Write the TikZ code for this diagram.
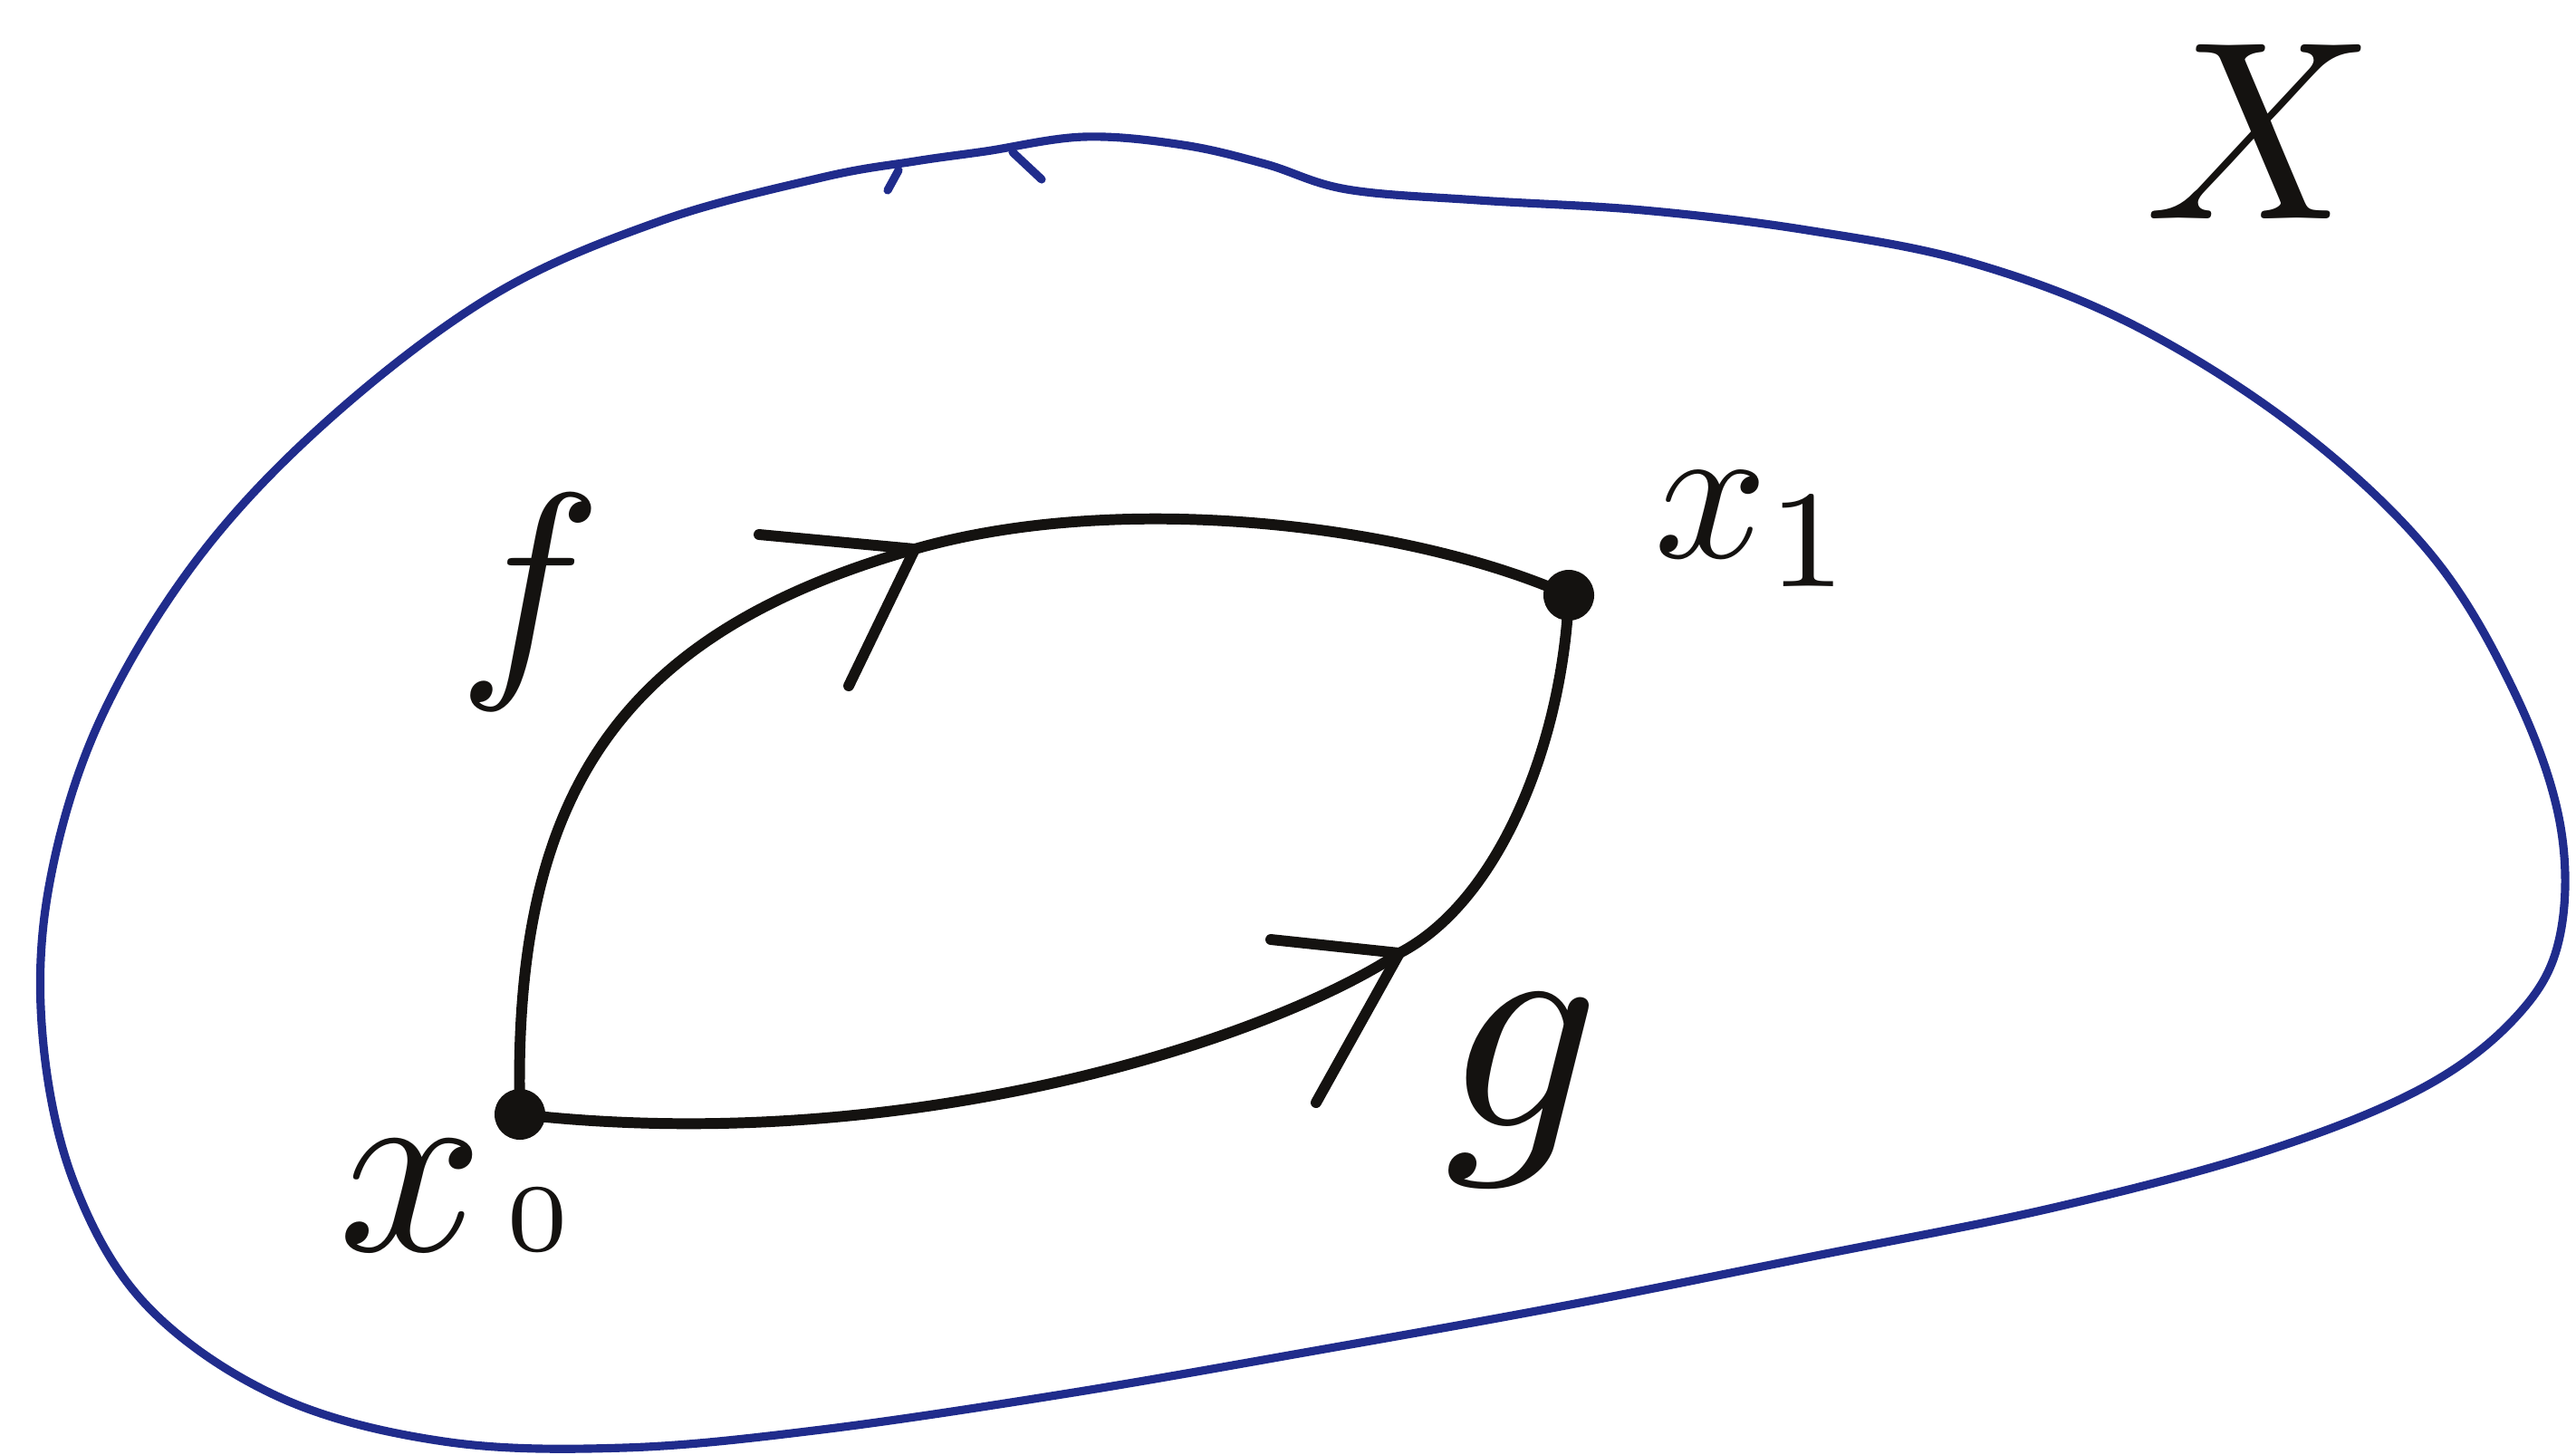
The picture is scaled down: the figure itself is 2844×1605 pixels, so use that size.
\documentclass[tikz,border=0pt]{standalone}
\usepackage{graphicx}
\definecolor{penblue}{RGB}{32,44,140}
\definecolor{ink}{RGB}{20,18,16}
\begin{document}
\begin{tikzpicture}[x=0.01cm,y=-0.01cm,
  dot/.style={circle,fill=ink,inner sep=0pt,minimum size=0.56cm},
  pathline/.style={draw=ink,line width=3.4pt,line cap=round,line join=round},
  chevron/.style={draw=ink,line width=3.4pt,line cap=round,line join=round},
  space/.style={draw=penblue,line width=2.6pt,line cap=round,line join=round},
  lbl/.style={text=ink,font=\normalsize,scale=8,inner sep=0pt}]
\useasboundingbox[fill=white] (0,0) rectangle (2844,1605);
% the space X
\draw[space] plot[smooth cycle,tension=0.6] coordinates {
 (1088,167) (1197,151) (1306,160) (1397,181) (1487,209) (1632,221)
 (1814,232) (1995,254) (2177,290) (2358,360) (2539,475) (2684,612)
 (2775,762) (2826,907) (2826,1034) (2780,1120) (2676,1200) (2503,1270)
 (2267,1333) (1995,1388) (1723,1442) (1451,1491) (1179,1538) (907,1578)
 (689,1598) (490,1591) (308,1542) (163,1442) (82,1306) (47,1143)
 (54,979) (109,798) (218,617) (363,463) (544,326) (726,245) (907,196) (1010,178)};
\coordinate (hookAa) at (992,188);
\coordinate (hookAb) at (980,210);
\coordinate (hookBa) at (1118,168);
\coordinate (hookBb) at (1150,198);
\draw[space] (hookAa) -- (hookAb);
\draw[space] (hookBa) -- (hookBb);
% points
\node[dot] (x0) at (574,1230) {};
\node[dot] (x1) at (1732,657) {};
% arrow tips on the paths
\coordinate (fa) at (1010,606);
\coordinate (ga) at (1545,1052);
\draw[pathline] (x0.center) .. controls (565,880) and (680,700) .. (fa)
  .. controls (1240,540) and (1560,580) .. (x1.center);
\draw[pathline] (x0.center) .. controls (1000,1278) and (1400,1148) .. (ga)
  .. controls (1655,995) and (1725,820) .. (x1.center);
% chevrons
\coordinate (fbar) at (838,590);
\coordinate (flow) at (937,757);
\coordinate (gbar) at (1403,1037);
\coordinate (glow) at (1453,1217);
\draw[chevron] (fbar) -- (fa) -- (flow);
\draw[chevron] (gbar) -- (ga) -- (glow);
% labels
\node[lbl,scale=0.95] (lf) at (585,665) {$f$};
\node[lbl,scale=1.2] (lg) at (1681,1204) {$g$};
\node[lbl,anchor=base west] (lx0) at (368,1380) {$x\mkern1.5mu\scalebox{0.75}{$\scriptscriptstyle 0$}$};
\node[lbl,scale=0.78,anchor=base west] (lx1) at (1822,615) {$x_1$};
\node[lbl] (lX) at (2495,145) {$X$};
\end{tikzpicture}
\end{document}
